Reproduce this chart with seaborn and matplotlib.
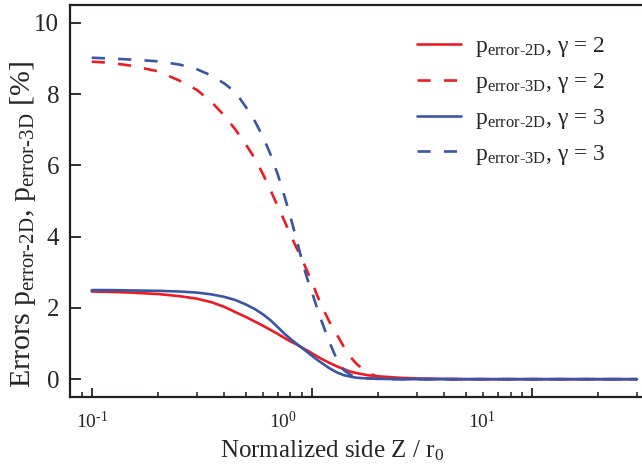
import matplotlib
matplotlib.use("Agg")
import matplotlib.pyplot as plt
import seaborn as sns
import pandas as pd
from matplotlib.transforms import ScaledTranslation

# Normalized side Z / r0 (log axis)
z = [0.1, 0.12, 0.15, 0.2, 0.25, 0.3, 0.35, 0.4, 0.45, 0.5, 0.55, 0.6, 0.65,
     0.7, 0.75, 0.8, 0.85, 0.9, 0.95, 1.0, 1.05, 1.1, 1.2, 1.3, 1.4, 1.5,
     1.6, 1.8, 2.0, 2.5, 3.0, 5.0, 10.0, 30.0]

# Errors in percent
err2d_g2 = [2.46, 2.45, 2.43, 2.39, 2.33, 2.26, 2.16, 2.03, 1.88, 1.75, 1.62,
            1.50, 1.38, 1.27, 1.16, 1.06, 0.98, 0.89, 0.81, 0.73, 0.65, 0.58,
            0.46, 0.36, 0.28, 0.21, 0.17, 0.11, 0.08, 0.04, 0.02, 0.0, 0.0, 0.0]
err3d_g2 = [8.91, 8.88, 8.80, 8.64, 8.38, 8.12, 7.78, 7.40, 7.00, 6.60, 6.20,
            5.75, 5.30, 4.85, 4.45, 4.05, 3.70, 3.38, 3.05, 2.75, 2.40, 2.10,
            1.62, 1.25, 0.90, 0.62, 0.42, 0.18, 0.06, 0.01, 0.0, 0.0, 0.0, 0.0]
err2d_g3 = [2.50, 2.50, 2.49, 2.48, 2.46, 2.43, 2.38, 2.31, 2.22, 2.10, 1.97,
            1.82, 1.65, 1.46, 1.28, 1.13, 1.00, 0.88, 0.77, 0.66, 0.56, 0.47,
            0.31, 0.19, 0.11, 0.07, 0.04, 0.02, 0.01, 0.0, 0.0, 0.0, 0.0, 0.0]
err3d_g3 = [9.02, 9.00, 8.97, 8.92, 8.83, 8.70, 8.52, 8.30, 8.05, 7.65, 7.25,
            6.80, 6.30, 5.75, 5.15, 4.55, 3.95, 3.35, 2.85, 2.45, 2.05, 1.68,
            1.05, 0.55, 0.25, 0.12, 0.06, 0.02, 0.01, 0.0, 0.0, 0.0, 0.0, 0.0]

labels = [r"p$_{\mathrm{error‐2D}}$, γ = 2",
          r"p$_{\mathrm{error‐3D}}$, γ = 2",
          r"p$_{\mathrm{error‐2D}}$, γ = 3",
          r"p$_{\mathrm{error‐3D}}$, γ = 3"]

xtick_pos = [0.1, 1.0, 10.0]
xtick_labels = [r"10$^{\mathrm{‐1}}$", r"10$^{\mathrm{0}}$", r"10$^{\mathrm{1}}$"]
ytick_pos = [0, 2, 4, 6, 8, 10]

RED = "#ED1C24"
BLUE = "#3A55A4"
INK = "#231F20"

sns.set_theme(style="white")
plt.rcParams["font.family"] = ["Liberation Serif", "DejaVu Serif"]
plt.rcParams["mathtext.fontset"] = "custom"
plt.rcParams["mathtext.rm"] = "Liberation Serif"
plt.rcParams["mathtext.it"] = "Liberation Serif:italic"
plt.rcParams["mathtext.bf"] = "Liberation Serif:bold"
plt.rcParams["axes.unicode_minus"] = False

fig = plt.figure(figsize=(6.42, 4.68), dpi=100)
ax = fig.add_axes([70.4 / 642, 1 - 397 / 468, 594 / 642, 392 / 468])

series = [(err2d_g2, RED, "-"), (err3d_g2, RED, (0, (5, 5))),
          (err2d_g3, BLUE, "-"), (err3d_g3, BLUE, (0, (5, 5)))]
for (vals, col, ls), lab in zip(series, labels):
    df = pd.DataFrame({"z": z, "err": vals})
    sns.lineplot(data=df, x="z", y="err", ax=ax, color=col, linestyle=ls,
                 linewidth=1.9, label=lab)

ax.set_xscale("log")
ax.set_xlim(0.08, 40)
ax.set_ylim(-0.5, 10.5)
ax.set_xticks(xtick_pos, labels=xtick_labels)
ax.set_yticks(ytick_pos)

for side in ["left", "bottom", "top", "right"]:
    ax.spines[side].set_color(INK)
    ax.spines[side].set_linewidth(1.6)

ax.tick_params(axis="both", which="major", direction="in", color=INK,
               width=1.3)
ax.tick_params(axis="y", which="major", length=8, labelsize=18, pad=8,
               left=True)
ax.tick_params(axis="x", which="major", length=6.5, labelsize=14, pad=10,
               bottom=True)
ax.tick_params(axis="x", which="minor", direction="in", length=3.5,
               width=1.1, color=INK, bottom=True)
ax.tick_params(axis="y", which="minor", left=False)

# decade labels sit slightly left of their ticks
shifts = [0, -21, -36]
for lbl, dx in zip(ax.get_xticklabels(), shifts):
    lbl.set_transform(lbl.get_transform() +
                      ScaledTranslation(dx / 72, 0, fig.dpi_scale_trans))

ax.set_xlabel("Normalized side Z / r$_{\\mathrm{0}}$", fontsize=18)
ax.xaxis.set_label_coords(0.44, -0.105)
ax.set_ylabel(r"Errors p$_{\mathrm{error‐2D}}$, p$_{\mathrm{error‐3D}}$ [%]",
              fontsize=21.5)
ax.yaxis.set_label_coords(-0.054, 0.44)

leg = ax.legend(loc="upper left", bbox_to_anchor=(396 / 642, 1 - 14 / 468),
                bbox_transform=fig.transFigure, frameon=False, fontsize=17,
                handlelength=1.85, handletextpad=0.6, labelspacing=0.5)

fig.savefig("out.png", dpi=100)
